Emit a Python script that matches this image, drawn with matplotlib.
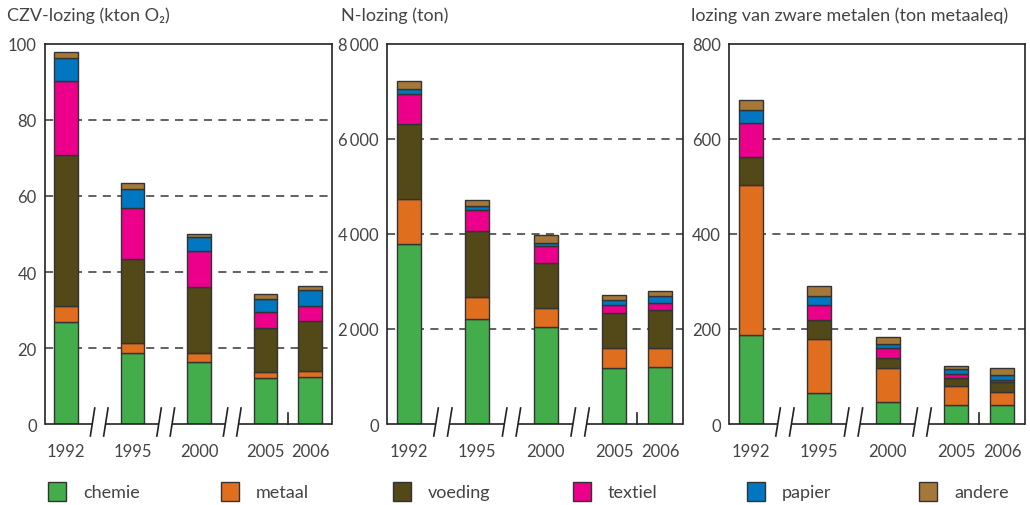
import matplotlib
matplotlib.use("Agg")
import matplotlib.pyplot as plt
import matplotlib.transforms as mtransforms
from matplotlib.patches import Rectangle
import numpy as np

plt.rcParams['font.family'] = ['Lato', 'DejaVu Sans']

# ---------------- data ----------------
years = ["1992", "1995", "2000", "2005", "2006"]
sectors = ["chemie", "metaal", "voeding", "textiel", "papier", "andere"]
colors = ["#43ad4b", "#e06e1f", "#534818", "#ec008b", "#0077c0", "#a57839"]

# CZV (kton O2), per sector, per year
czv_chemie  = [26.9, 18.8, 16.3, 12.1, 12.4]
czv_metaal  = [4.2, 2.5, 2.5, 1.6, 1.5]
czv_voeding = [39.6, 22.1, 17.2, 11.6, 13.3]
czv_textiel = [19.6, 13.4, 9.6, 4.2, 3.9]
czv_papier  = [5.9, 5.0, 3.6, 3.5, 4.1]
czv_andere  = [1.8, 1.6, 0.9, 1.1, 1.2]

# N-lozing (ton)
n_chemie  = [3800, 2215, 2040, 1175, 1195]
n_metaal  = [940, 450, 405, 430, 410]
n_voeding = [1570, 1405, 950, 725, 800]
n_textiel = [640, 435, 345, 185, 150]
n_papier  = [95, 85, 75, 105, 135]
n_andere  = [175, 125, 155, 105, 105]

# zware metalen (ton metaaleq)
m_chemie  = [188, 65, 47, 40, 40]
m_metaal  = [315, 114, 71, 40, 27]
m_voeding = [59, 41, 21, 17, 21]
m_textiel = [71, 31, 22, 8, 5]
m_papier  = [28, 18, 8, 11, 10]
m_andere  = [21, 21, 14, 6, 15]

panels = [
    dict(title="CZV-lozing (kton O\u2082)",
         data=[czv_chemie, czv_metaal, czv_voeding, czv_textiel, czv_papier, czv_andere],
         ymax=100, ticks=[0, 20, 40, 60, 80, 100],
         ticklabels=["0", "20", "40", "60", "80", "100"]),
    dict(title="N-lozing (ton)",
         data=[n_chemie, n_metaal, n_voeding, n_textiel, n_papier, n_andere],
         ymax=8000, ticks=[0, 2000, 4000, 6000, 8000],
         ticklabels=["0", "2\u2009000", "4\u2009000", "6\u2009000", "8\u2009000"]),
    dict(title="lozing van zware metalen (ton metaaleq)",
         data=[m_chemie, m_metaal, m_voeding, m_textiel, m_papier, m_andere],
         ymax=800, ticks=[0, 200, 400, 600, 800],
         ticklabels=["0", "200", "400", "600", "800"]),
]

# ---------------- layout ----------------
W, H = 1030, 506
fig = plt.figure(figsize=(W / 100, H / 100), dpi=100)

# axes boxes in pixels: (left, right, top, bottom)
boxes = [(45, 332, 45, 425), (387, 683, 45, 425), (729, 1025, 45, 425)]
title_x = [7, 341, 691]

xpos = np.array([0, 1, 2, 3, 3.67])
xlim = (-0.315, 4.0)
barw = 0.35
txtcol = "#444444"
edgecol = "#333333"

for (l, r, t, b), p, tx in zip(boxes, panels, title_x):
    ax = fig.add_axes([l / W, 1 - b / H, (r - l) / W, (b - t) / H])
    bottom = np.zeros(len(years))
    for vals, c in zip(p["data"], colors):
        ax.bar(xpos, vals, width=barw, bottom=bottom, color=c,
               edgecolor=edgecol, linewidth=1.0, zorder=3)
        bottom += np.array(vals)
    ax.set_xlim(*xlim)
    ax.set_ylim(0, p["ymax"])
    ax.set_yticks(p["ticks"])
    ax.set_yticklabels(p["ticklabels"])
    ax.set_xticks(xpos)
    ax.set_xticklabels(years)
    ax.tick_params(axis="both", length=0, labelsize=12, colors=txtcol)
    ax.tick_params(axis="y", pad=6)
    ax.tick_params(axis="x", pad=14)
    for sp in ["top", "right", "left"]:
        ax.spines[sp].set_linewidth(1.2)
        ax.spines[sp].set_color("#222222")
    ax.spines["bottom"].set_visible(False)
    # gridlines
    for yv in p["ticks"][1:-1]:
        ax.axhline(yv, color="#555555", linewidth=1.3, linestyle=(0, (4.5, 3.5)), zorder=1)

    # bottom axis with breaks
    trans = mtransforms.blended_transform_factory(ax.transData, ax.transAxes)
    breaks = [(xpos[i] + xpos[i + 1]) / 2 for i in range(3)]
    gap = 0.1
    segs = [xlim[0]]
    for bk in breaks:
        segs += [bk - gap, bk + gap]
    segs.append(xlim[1])
    for i in range(0, len(segs), 2):
        ax.plot([segs[i], segs[i + 1]], [0, 0], transform=trans, color="#222222",
                linewidth=1.2, clip_on=False, zorder=4, solid_capstyle="butt")
    ylo, yhi = -12 / (b - t), 16 / (b - t)
    for bk in breaks:
        for s in (-gap, gap):
            ax.plot([bk + s - 0.033, bk + s + 0.033], [ylo, yhi], transform=trans,
                    color="#222222", linewidth=1.2, clip_on=False, zorder=4)
    # small tick between 2005 and 2006
    mid = (xpos[3] + xpos[4]) / 2
    ax.plot([mid, mid], [0, 11 / (b - t)], transform=trans, color="#222222",
            linewidth=1.2, clip_on=False, zorder=4)

    fig.text(tx / W, 1 - 16 / H, p["title"], ha="left", va="center",
             fontsize=13, color=txtcol)

# ---------------- legend ----------------
leg_x = [48, 221, 393, 573, 747, 919]
for x0, lab, c in zip(leg_x, sectors, colors):
    fig.add_artist(Rectangle((x0 / W, 1 - 502 / H), 18 / W, 19 / H,
                             transform=fig.transFigure, facecolor=c,
                             edgecolor=edgecol, linewidth=1.0))
    fig.text((x0 + 35) / W, 1 - 493 / H, lab, ha="left", va="center",
             fontsize=13, color=txtcol)

fig.savefig("out.png", dpi=100)
